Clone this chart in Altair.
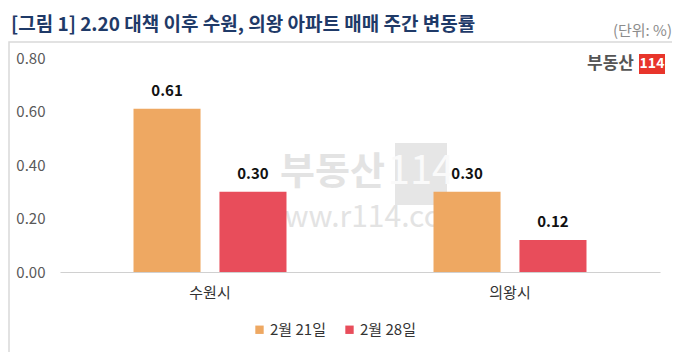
import altair as alt
import pandas as pd

cities = ["수원시", "의왕시"]
weeks = ["2월 21일", "2월 28일"]
week1 = [0.61, 0.30]
week2 = [0.30, 0.12]
colors = ["#EEA862", "#E84D5B"]
y_ticks = [0.0, 0.2, 0.4, 0.6, 0.8]
title_text = "[그림 1] 2.20 대책 이후 수원, 의왕 아파트 매매 주간 변동률"

rows = []
for i, c in enumerate(cities):
    rows.append({"city": c, "week": weeks[0], "value": week1[i]})
    rows.append({"city": c, "week": weeks[1], "value": week2[i]})
df = pd.DataFrame(rows)

FONT = "Noto Sans CJK KR"
one = pd.DataFrame({"a": [0]})

frame = alt.Chart(one).mark_rect(fillOpacity=0, stroke="#d9d9d9", strokeWidth=1.5).encode(
    x=alt.value(-51), x2=alt.value(616), y=alt.value(-16), y2=alt.value(299)
)

title = alt.Chart(one).mark_text(
    text=title_text, font=FONT, fontSize=19, fontWeight="bold", color="#1F3A68", align="left", baseline="middle"
).encode(x=alt.value(-49), y=alt.value(-33))

wm_box = alt.Chart(one).mark_rect(color="#e6e6e6").encode(
    x=alt.value(335), x2=alt.value(387), y=alt.value(85), y2=alt.value(147)
)
wm_text1 = alt.Chart(one).mark_text(
    text="부동산", font=FONT, fontSize=38, fontWeight="bold", color="#e3e3e3", align="right", baseline="middle"
).encode(x=alt.value(325), y=alt.value(115))
wm_text2 = alt.Chart(one).mark_text(
    text="114", font=FONT, fontSize=40, color="#fafafa", align="center", baseline="middle"
).encode(x=alt.value(361), y=alt.value(114))
wm_text3 = alt.Chart(one).mark_text(
    text="www.r114.com", font=FONT, fontSize=30, color="#e3e3e3", align="center", baseline="middle"
).encode(x=alt.value(305), y=alt.value(160))

logo_text = alt.Chart(one).mark_text(
    text="부동산", font=FONT, fontSize=17, fontWeight="bold", color="#555555", align="right", baseline="middle"
).encode(x=alt.value(574), y=alt.value(6))
logo_box = alt.Chart(one).mark_rect(color="#E8352B").encode(
    x=alt.value(579), x2=alt.value(605), y=alt.value(-4), y2=alt.value(16)
)
logo_114 = alt.Chart(one).mark_text(
    text="114", font=FONT, fontSize=14, fontWeight="bold", color="white", align="center", baseline="middle"
).encode(x=alt.value(592), y=alt.value(6))

unit = alt.Chart(one).mark_text(
    text="(단위: %)", font=FONT, fontSize=15, color="#8c8c8c", align="right", baseline="middle"
).encode(x=alt.value(612), y=alt.value(-27))

base = alt.Chart(df).encode(
    x=alt.X("city:N", sort=cities, title=None,
            scale=alt.Scale(paddingInner=0.427, paddingOuter=0.2135),
            axis=alt.Axis(labelAngle=0, labelFont=FONT, labelFontSize=15, labelColor="#333333",
                          labelPadding=13, ticks=False, domainColor="#d0d0d0", domainWidth=1.2)),
    xOffset=alt.XOffset("week:N", sort=weeks, scale=alt.Scale(paddingInner=0.22, paddingOuter=0.11)),
    y=alt.Y("value:Q", title=None,
            scale=alt.Scale(domain=[0, 0.8]),
            axis=alt.Axis(values=y_ticks, format=".2f", grid=False, domain=False, ticks=False,
                          labelFont=FONT, labelFontSize=15, labelColor="#595959", labelPadding=15)),
)

bars = base.mark_bar().encode(
    color=alt.Color("week:N", sort=weeks, scale=alt.Scale(domain=weeks, range=colors),
                    legend=alt.Legend(title=None, orient="none", direction="horizontal",
                                      legendX=192, legendY=264, symbolType="square", symbolSize=70,
                                      labelFont=FONT, labelFontSize=15, labelColor="#333333",
                                      columnPadding=16, symbolStrokeWidth=0, labelOffset=3))
)
labels = base.mark_text(font=FONT, fontSize=15, fontWeight="bold", color="#111111", dy=-18, baseline="middle").encode(
    text=alt.Text("value:Q", format=".2f")
)

chart = alt.layer(
    frame, title, wm_box, wm_text1, wm_text2, wm_text3, logo_text, logo_box, logo_114, unit, bars, labels
).properties(
    width=600, height=214,
    autosize=alt.AutoSizeParams(type="none"),
    padding={"left": 52, "top": 50, "right": 12, "bottom": 80},
).configure_view(stroke=None)

chart.save("out.html", embed_options={"renderer": "svg", "actions": False})
